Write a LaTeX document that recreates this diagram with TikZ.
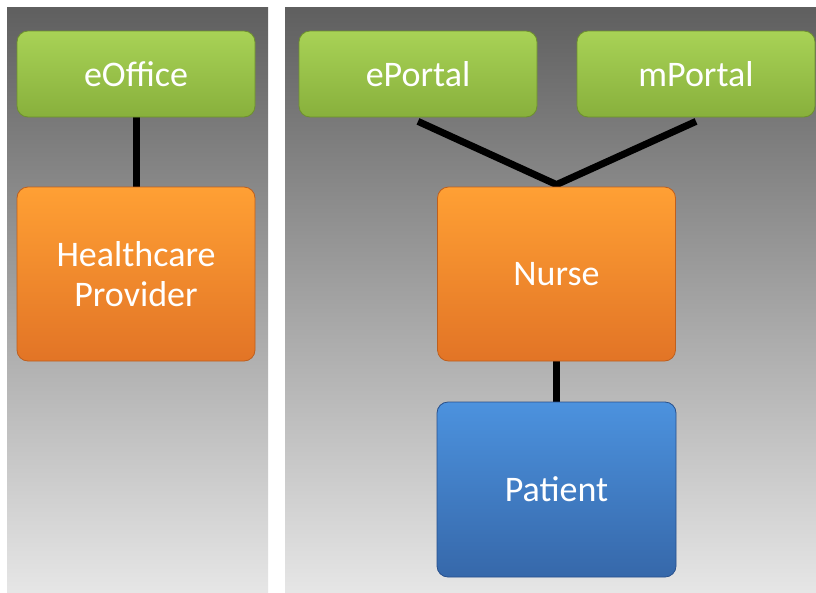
\documentclass[tikz,border=0pt]{standalone}
\usepackage{fontspec}
\setmainfont{Carlito}
\usetikzlibrary{calc}
\pgfdeclarelayer{bg}
\pgfdeclarelayer{lines}
\pgfsetlayers{bg,lines,main}
\definecolor{paneltop}{RGB}{95,95,95}
\definecolor{panelbot}{RGB}{230,230,230}
\definecolor{gtop}{RGB}{168,210,86}
\definecolor{gbot}{RGB}{136,176,60}
\definecolor{gedge}{RGB}{110,145,45}
\definecolor{otop}{RGB}{255,160,52}
\definecolor{obot}{RGB}{226,116,38}
\definecolor{oedge}{RGB}{190,95,30}
\definecolor{btop}{RGB}{76,146,222}
\definecolor{bbot}{RGB}{54,104,170}
\definecolor{bedge}{RGB}{40,80,140}
\tikzset{
  x=1pt, y=-1pt,
  panel/.style={top color=paneltop, bottom color=panelbot, draw=none},
  boxbase/.style={rectangle, rounded corners=11pt, text=white, font=\fontsize{36}{40}\selectfont, align=center, inner sep=0pt, line width=0.8pt},
  greenbox/.style={boxbase, top color=gtop, bottom color=gbot, draw=gedge, minimum width=238pt, minimum height=86pt},
  orangebox/.style={boxbase, top color=otop, bottom color=obot, draw=oedge, minimum width=238pt, minimum height=174pt},
  bluebox/.style={boxbase, top color=btop, bottom color=bbot, draw=bedge, minimum width=239pt, minimum height=175pt},
  link/.style={line width=7pt, black}
}
\begin{document}
\begin{tikzpicture}
\useasboundingbox (0,0) rectangle (816,592);
\begin{pgfonlayer}{bg}
  \fill[white] (0,0) rectangle (816,592);
  \shade[panel] (7,7) rectangle (268,592);
  \shade[panel] (285,7) rectangle (816,592);
\end{pgfonlayer}
\node[greenbox] (eoffice) at (136,74) {eOffice};
\node[orangebox] (hp) at (136,274) {Healthcare\\Provider};
\node[greenbox] (eportal) at (418,74) {ePortal};
\node[greenbox] (mportal) at (696,74) {mPortal};
\node[orangebox] (nurse) at (556.5,274) {Nurse};
\node[bluebox] (patient) at (556.5,489.5) {Patient};
\begin{pgfonlayer}{lines}
  \draw[link] (eoffice.south) -- (hp.north);
  \draw[link] ($(eportal.south)+(0,4)$) -- ($(nurse.north)+(0,-2)$) -- ($(mportal.south)+(0,4)$);
  \draw[link] (nurse.south) -- (patient.north);
\end{pgfonlayer}
\end{tikzpicture}
\end{document}
